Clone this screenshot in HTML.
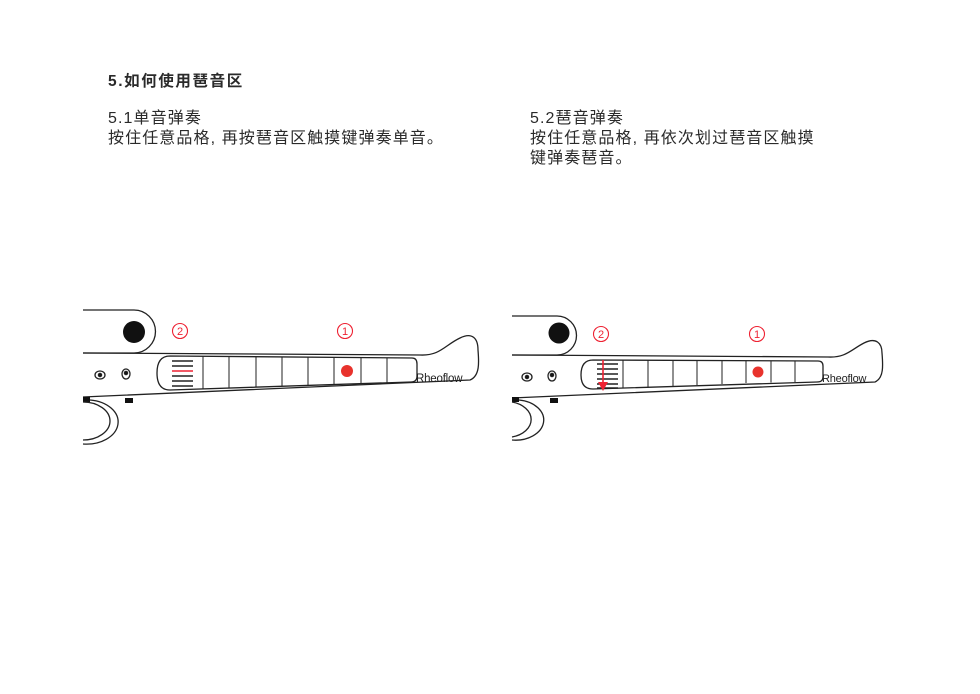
<!DOCTYPE html>
<html><head><meta charset="utf-8"><style>
body{margin:0;background:#fff;width:980px;height:694px;overflow:hidden;position:relative;font-family:"Liberation Sans","Noto Sans CJK SC",sans-serif;color:#2a2a2a}
.t{position:absolute;font-size:16px;line-height:20px;white-space:nowrap;letter-spacing:1.1px}
</style></head><body>
<div class="t" style="left:108px;top:72px;font-weight:bold;font-size:15.5px;letter-spacing:1.6px;">5.如何使用琶音区</div>
<div class="t" style="left:108px;top:109px;">5.1单音弹奏<br>按住任意品格, 再按琶音区触摸键弹奏单音。</div>
<div class="t" style="left:530px;top:109px;">5.2琶音弹奏<br>按住任意品格, 再依次划过琶音区触摸<br>键弹奏琶音。</div>
<svg width="980" height="694" style="position:absolute;left:0;top:0" fill="none" stroke="#222" stroke-width="1.3">
<path d="M83 310 H134 A21.5 21.5 0 0 1 134 353 H83"/>
<circle cx="134" cy="332" r="11" fill="#111" stroke="none"/>
<path d="M83 353 L420 355 C440 356 445 345 460 338 C472 332 478 338 478 350 C479 362 480 376 470 380 L83 397"/>
<path d="M170 356 L412 358 Q417 358 417 364 V376 Q417 382 411 382 L170 390 Q157 390 157 373 Q157 356 170 356Z"/>
<g stroke-width="1"><path d="M203 356V389M229 357V388M256 357V387M282 357V386M308 357V385M334 357V384M361 357.5V383.5M387 357.5V382.5"/></g>
<g stroke-width="1.6"><path d="M172 361H193M172 366H193M172 376H193M172 381H193M172 386H193"/><path d="M172 371H193" stroke="#e23"/></g>
<circle cx="347" cy="371" r="6" fill="#e8322c" stroke="none"/>
<ellipse cx="100" cy="375" rx="5" ry="4"/><circle cx="100" cy="375" r="1.6" fill="#111"/>
<ellipse cx="126" cy="374" rx="4" ry="5"/><circle cx="126" cy="373" r="1.6" fill="#111"/>
<rect x="83" y="397" width="7" height="5" fill="#111" stroke="none"/>
<rect x="125" y="398" width="8" height="5" fill="#111" stroke="none"/>
<path d="M83 402 A27 19 0 0 1 83 440"/><path d="M90 400 A30 21 0 0 1 83 444"/>
<path d="M512 316 H557 A19.5 19.5 0 0 1 557 355 H512"/>
<circle cx="559" cy="333" r="10.5" fill="#111" stroke="none"/>
<path d="M512 355 L828 357 C846 358 852 349 864 343 C876 337 882 343 882 353 C883 365 884 378 875 382 L512 398"/>
<path d="M593 360 L818 361 Q823 361 823 366 V377 Q823 382 817 382 L593 389 Q581 389 581 375 Q581 360 593 360Z"/>
<g stroke-width="1"><path d="M623 360V388M648 360V387M673 360V386M697 360V385M722 360V384M746 361V383M771 361V382.5M795 361V382"/></g>
<g stroke-width="1.6"><path d="M597 364H618M597 369H618M597 374H618M597 379H618M597 384H618M597 388H618"/></g>
<path d="M603 360V384" stroke="#e23" stroke-width="1.6"/><path d="M598 382L603 391L608 382Z" fill="#e23" stroke="none"/>
<circle cx="758" cy="372" r="5.5" fill="#e8322c" stroke="none"/>
<ellipse cx="527" cy="377" rx="5" ry="4"/><circle cx="527" cy="377" r="1.6" fill="#111"/>
<ellipse cx="552" cy="376" rx="4" ry="5"/><circle cx="552" cy="375" r="1.6" fill="#111"/>
<rect x="512" y="397" width="7" height="5" fill="#111" stroke="none"/>
<rect x="550" y="398" width="8" height="5" fill="#111" stroke="none"/>
<path d="M512 402 A25 18 0 0 1 512 437"/><path d="M519 400 A28 20 0 0 1 512 440"/>
<g stroke="#e23" stroke-width="1.1">
<circle cx="180" cy="331" r="7.5"/><circle cx="345" cy="331" r="7.5"/>
<circle cx="601" cy="334" r="7.5"/><circle cx="757" cy="334" r="7.5"/></g>
<g font-family="Liberation Sans, DejaVu Sans, sans-serif" stroke="none">
<text x="416" y="382" font-size="11.5" fill="#222" letter-spacing="-0.2">Rheoflow</text>
<text x="822" y="382" font-size="11" fill="#222" letter-spacing="-0.2">Rheoflow</text>
<g fill="#e23" font-size="11" text-anchor="middle">
<text x="180" y="335">2</text><text x="345" y="335">1</text>
<text x="601" y="338">2</text><text x="757" y="338">1</text></g>
</g>
</svg>
</body></html>
